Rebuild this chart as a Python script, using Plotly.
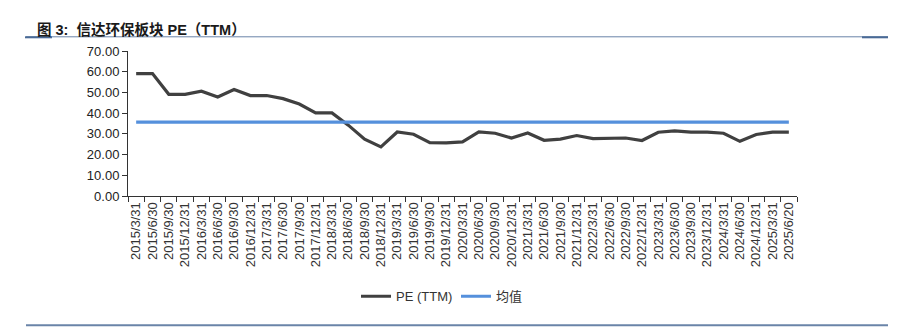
import plotly.graph_objects as go

categories = [
    "2015/3/31", "2015/6/30", "2015/9/30", "2015/12/31",
    "2016/3/31", "2016/6/30", "2016/9/30", "2016/12/31",
    "2017/3/31", "2017/6/30", "2017/9/30", "2017/12/31",
    "2018/3/31", "2018/6/30", "2018/9/30", "2018/12/31",
    "2019/3/31", "2019/6/30", "2019/9/30", "2019/12/31",
    "2020/3/31", "2020/6/30", "2020/9/30", "2020/12/31",
    "2021/3/31", "2021/6/30", "2021/9/30", "2021/12/31",
    "2022/3/31", "2022/6/30", "2022/9/30", "2022/12/31",
    "2023/3/31", "2023/6/30", "2023/9/30", "2023/12/31",
    "2024/3/31", "2024/6/30", "2024/12/31", "2025/3/31", "2025/6/20",
]
pe_ttm = [
    59.1, 59.1, 49.1, 49.1,
    50.6, 47.8, 51.4, 48.5,
    48.5, 47.0, 44.4, 40.1,
    40.1, 34.2, 27.4, 23.7,
    30.9, 29.8, 25.8, 25.6,
    26.1, 30.9, 30.3, 28.0,
    30.4, 26.9, 27.5, 29.2,
    27.7, 27.7, 28.0, 26.8,
    30.8, 31.4, 30.8, 30.8,
    30.3, 26.4, 29.7, 30.8, 30.8,
]
mean_value = 35.7
mean_line = [mean_value] * len(categories)
y_ticks = [0, 10, 20, 30, 40, 50, 60, 70]

FONT = "Liberation Sans, Arial, Noto Sans CJK SC, sans-serif"
W, H = 898, 328
L, R, T, B = 128, 797, 50.7, 195.7

def px(x):
    return (x - L) / (R - L)

def py(y):
    return (B - y) / (B - T)

fig = go.Figure()
fig.add_trace(go.Scatter(
    x=categories, y=pe_ttm, mode="lines", name="PE (TTM)",
    line=dict(color="#404040", width=3.2), legend="legend",
))
fig.add_trace(go.Scatter(
    x=categories, y=mean_line, mode="lines", name="均值",
    line=dict(color="#5590dc", width=3.2), legend="legend2",
))

leg_common = dict(
    orientation="h", yanchor="middle", xanchor="left",
    font=dict(size=13, color="#333333"), itemwidth=30,
    bgcolor="rgba(0,0,0,0)",
)

fig.update_layout(
    width=W, height=H,
    margin=dict(l=L, r=W - R, t=T, b=H - B, pad=0),
    paper_bgcolor="white", plot_bgcolor="white",
    font=dict(family=FONT, size=13, color="#222222"),
    showlegend=True,
    legend=dict(x=px(356), y=py(296), **leg_common),
    legend2=dict(x=px(456), y=py(296), **leg_common),
    xaxis=dict(
        type="category", range=[-0.5, len(categories) - 0.5],
        showline=True, linecolor="#333333", linewidth=1,
        ticks="outside", tickson="boundaries", ticklen=5, tickcolor="#333333",
        tickangle=-90, tickfont=dict(size=13, color="#333333"),
        showgrid=False, zeroline=False,
    ),
    yaxis=dict(
        range=[0, 70], tickvals=y_ticks, tickformat=".2f",
        showline=True, linecolor="#333333", linewidth=1,
        ticks="outside", ticklen=5, tickcolor="#333333",
        tickfont=dict(size=13, color="#222222"),
        showgrid=False, zeroline=False,
    ),
)

fig.add_annotation(
    xref="paper", yref="paper", x=px(35), y=py(29.5), xanchor="left", yanchor="middle",
    text="<b>图 3:  信达环保板块 PE（TTM）</b>", showarrow=False,
    font=dict(family=FONT, size=14.5, color="#1a1a1a"),
)
# title rule and bottom rule
fig.add_shape(type="line", xref="paper", yref="paper", x0=px(26), x1=px(888), y0=py(36.5), y1=py(36.5),
              line=dict(color="#6a84a8", width=1))
fig.add_shape(type="line", xref="paper", yref="paper", x0=px(25), x1=px(52), y0=py(37), y1=py(37),
              line=dict(color="#4a6a96", width=2))
fig.add_shape(type="line", xref="paper", yref="paper", x0=px(862), x1=px(888), y0=py(37), y1=py(37),
              line=dict(color="#4a6a96", width=2))
fig.add_shape(type="line", xref="paper", yref="paper", x0=px(26), x1=px(888), y0=py(325), y1=py(325),
              line=dict(color="#6a84a8", width=2))

fig.write_html("out.html")
